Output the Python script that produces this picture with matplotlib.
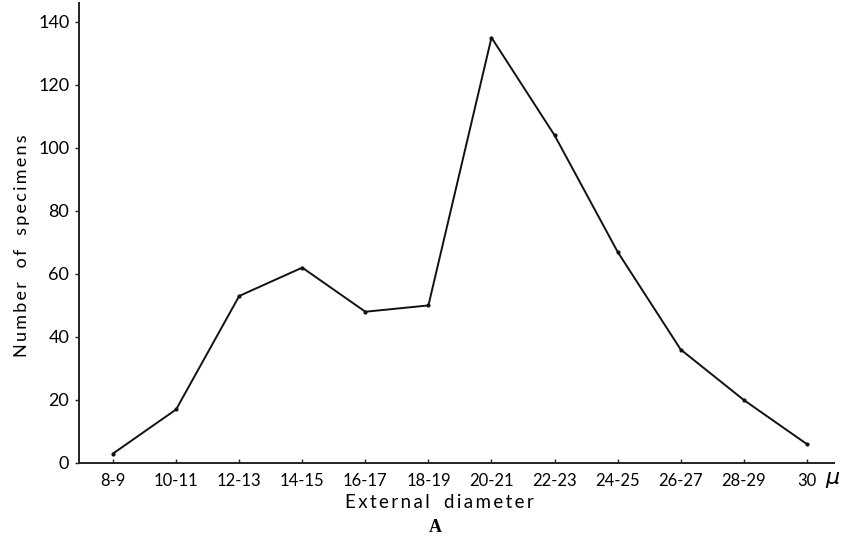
import numpy as np
import matplotlib
matplotlib.use('Agg')
from matplotlib import pyplot as plt

# size classes (external diameter, microns) and counts
classes = ['8-9', '10-11', '12-13', '14-15', '16-17', '18-19',
           '20-21', '22-23', '24-25', '26-27', '28-29', '30']
counts = [3, 17, 53, 62, 48, 50, 135, 104, 67, 36, 20, 6]
yticks = [0, 20, 40, 60, 80, 100, 120, 140]

plt.rcParams['font.family'] = ['Lato', 'DejaVu Sans']


def spaced(s):
    # rough letter spacing, like the old lettering
    return '\u2009'.join(s).replace(' ', '  ')


fig = plt.figure(figsize=(8.55, 5.4), dpi=100)
ax = fig.add_axes([0.0924, 0.1426, 0.883, 0.852])

x = np.arange(len(classes))
ax.plot(x, counts, color='#111111', lw=1.4, marker='o', ms=2, mfc='#111111')

ax.set_xlim(-0.54, 11.43)
ax.set_ylim(0, 146)
ax.set_xticks(x)
ax.set_xticklabels(classes, fontsize=12)
ax.set_yticks(yticks)
ax.set_yticklabels([str(v) for v in yticks], fontsize=13)
ax.tick_params(axis='both', length=3, width=1, color='#222222', pad=4)
ax.tick_params(axis='x', direction='in', pad=7)

for s in ['top', 'right']:
    ax.spines[s].set_visible(False)
for s in ['left', 'bottom']:
    ax.spines[s].set_linewidth(1.4)
    ax.spines[s].set_color('#222222')

fig.text(0.9745, 1 - 480 / 540, r'$\mu$', fontsize=16, ha='center', va='center')
fig.text(22 / 855, 1 - 246 / 540, spaced('Number of specimens'), rotation=90,
         fontsize=13, ha='center', va='center')
fig.text(439 / 855, 1 - 503 / 540, spaced('External diameter'), fontsize=13.5,
         ha='center', va='center')
fig.text(435 / 855, 1 - 528 / 540, 'A', fontsize=13, family='Liberation Serif',
         weight='bold', ha='center', va='center')

fig.savefig('out.png', dpi=100)
